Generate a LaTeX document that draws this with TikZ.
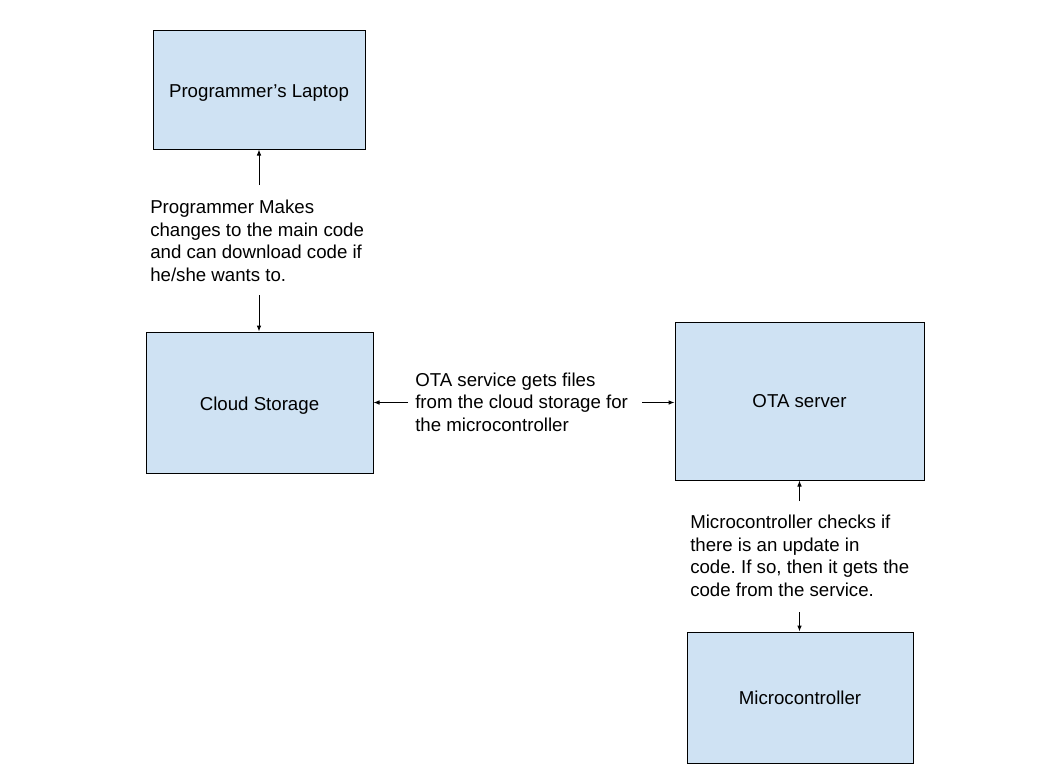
\documentclass[tikz,border=0pt]{standalone}
\usepackage{fontspec}
\setmainfont{Liberation Sans}
\usetikzlibrary{arrows.meta}
\definecolor{boxblue}{HTML}{CFE2F3}
\begin{document}
\frenchspacing
\begin{tikzpicture}[x=0.75pt,y=-0.75pt,
  box/.style={draw=black,fill=boxblue,line width=0.75pt,inner sep=0pt,font=\fontsize{14}{17}\selectfont},
  lowtext/.style={text height=14.5pt,text depth=3pt},
  lbl/.style={align=left,inner sep=0pt,anchor=west,font=\fontsize{14}{16.9}\selectfont},
  conn/.style={line width=0.75pt,-{Latex[length=4.5pt,width=3.5pt]}}]
\useasboundingbox[fill=white] (0,0) rectangle (1057,776);
\node[box,lowtext,minimum width=212*0.75pt,minimum height=119*0.75pt] (laptop) at (259,89.5) {Programmer’s Laptop};
\node[box,lowtext,minimum width=227*0.75pt,minimum height=141*0.75pt] (cloud) at (259.5,402.5) {Cloud Storage};
\node[box,minimum width=249*0.75pt,minimum height=158*0.75pt] (ota) at (799.5,401) {OTA server};
\node[box,minimum width=226*0.75pt,minimum height=131*0.75pt] (micro) at (800,697.5) {Microcontroller};
\node[lbl] (l1) at (150,241) {Programmer Makes\\changes to the main code\\and can download code if\\he/she wants to.};
\node[lbl] (l2) at (415,402) {OTA service gets files\\from the cloud storage for\\the microcontroller};
\node[lbl] (l3) at (690,556) {Microcontroller checks if\\there is an update in\\code. If so, then it gets the\\code from the service.};
\coordinate (a1) at (259,185);
\coordinate (a2) at (259,295);
\coordinate (a3) at (408,402.5);
\coordinate (a4) at (642,402.5);
\coordinate (a5) at (799.5,501);
\coordinate (a6) at (799.5,612);
\draw[conn] (a1) -- (a1 |- laptop.south);
\draw[conn] (a2) -- (a2 |- cloud.north);
\draw[conn] (a3) -- (a3 -| cloud.east);
\draw[conn] (a4) -- (a4 -| ota.west);
\draw[conn] (a5) -- (a5 |- ota.south);
\draw[conn] (a6) -- (a6 |- micro.north);
\end{tikzpicture}
\end{document}
